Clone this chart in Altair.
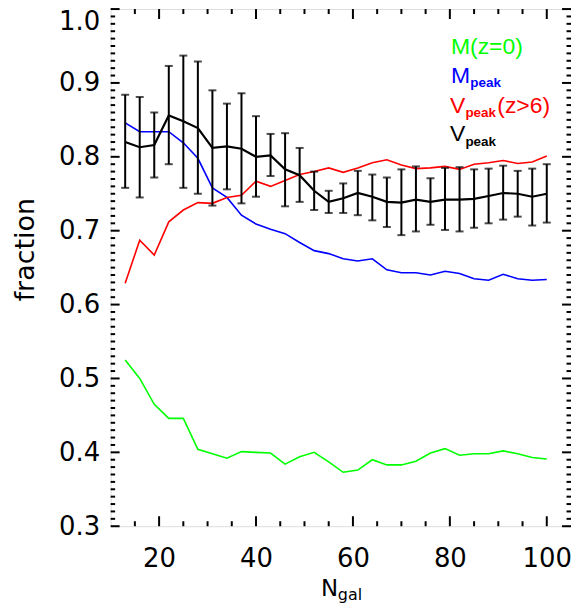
import altair as alt
import pandas as pd

# ---------------- data ----------------
n_gal = [13, 16, 19, 22, 25, 28, 31, 34, 37, 40, 43, 46, 49, 52, 55,
         58, 61, 64, 67, 70, 73, 76, 79, 82, 85, 88, 91, 94, 97, 100]

m_z0 = [0.525, 0.500, 0.465, 0.446, 0.446, 0.404, 0.398, 0.392, 0.401, 0.400,
        0.399, 0.384, 0.394, 0.400, 0.387, 0.373, 0.376, 0.390, 0.383, 0.383,
        0.388, 0.399, 0.405, 0.396, 0.398, 0.398, 0.402, 0.398, 0.393, 0.391]

m_peak = [0.846, 0.834, 0.834, 0.834, 0.819, 0.798, 0.758, 0.745, 0.721, 0.709,
          0.702, 0.696, 0.684, 0.673, 0.669, 0.662, 0.659, 0.662, 0.647, 0.643,
          0.643, 0.640, 0.645, 0.642, 0.635, 0.633, 0.641, 0.635, 0.633, 0.634]

v_peak_z6 = [0.629, 0.687, 0.667, 0.712, 0.728, 0.738, 0.737, 0.745, 0.748, 0.767,
             0.760, 0.768, 0.776, 0.780, 0.785, 0.779, 0.785, 0.792, 0.796, 0.789,
             0.784, 0.785, 0.787, 0.783, 0.790, 0.792, 0.795, 0.791, 0.793, 0.801]

v_peak = [0.820, 0.813, 0.816, 0.856, 0.848, 0.839, 0.812, 0.814, 0.811, 0.800,
          0.802, 0.783, 0.775, 0.754, 0.739, 0.744, 0.751, 0.746, 0.739, 0.738,
          0.742, 0.739, 0.742, 0.742, 0.743, 0.747, 0.751, 0.750, 0.746, 0.750]

v_peak_hi = [0.884, 0.881, 0.860, 0.923, 0.937, 0.929, 0.890, 0.872, 0.886, 0.855,
             0.831, 0.832, 0.812, 0.780, 0.754, 0.764, 0.781, 0.776, 0.772, 0.783,
             0.787, 0.771, 0.785, 0.786, 0.783, 0.784, 0.788, 0.781, 0.784, 0.790]

v_peak_lo = [0.758, 0.745, 0.772, 0.790, 0.758, 0.750, 0.734, 0.756, 0.737, 0.746,
             0.774, 0.733, 0.739, 0.728, 0.724, 0.724, 0.721, 0.714, 0.705, 0.694,
             0.699, 0.708, 0.701, 0.699, 0.704, 0.710, 0.715, 0.719, 0.707, 0.711]

x_major = [20, 40, 60, 80, 100]
x_minor = [15, 25, 30, 35, 45, 50, 55, 65, 70, 75, 85, 90, 95]
y_major = [0.3, 0.4, 0.5, 0.6, 0.7, 0.8, 0.9, 1.0]
y_minor = [round(0.3 + i * 0.01, 2) for i in range(71) if i % 10]

x_domain = [10, 105]
y_domain = [0.3, 1.0]

# ---------------- layout ----------------
W, H = 462, 519
AX_FONT = "DejaVu Sans"
LEG_FONT = "Liberation Sans"

df = pd.DataFrame({
    "x": n_gal, "m_z0": m_z0, "m_peak": m_peak, "v_peak_z6": v_peak_z6,
    "v_peak": v_peak, "hi": v_peak_hi, "lo": v_peak_lo,
})

xs = alt.Scale(domain=x_domain, nice=False, zero=False)
ys = alt.Scale(domain=y_domain, nice=False, zero=False)

x_axis = alt.Axis(values=x_major, tickSize=0, domain=False, grid=False,
                  labelFont=AX_FONT, labelFontSize=26, labelPadding=19,
                  labelColor="black", title=None, labelFlush=False)
y_axis = alt.Axis(values=y_major, format=".1f", tickSize=0, domain=False,
                  grid=False, labelFont=AX_FONT, labelFontSize=26,
                  labelPadding=11, labelColor="black", labelFlush=False,
                  labelBaseline={"condition": {"test": "datum.value >= 0.99",
                                               "value": "top"},
                                 "value": "middle"},
                  title="fraction", titleFont=AX_FONT, titleFontSize=27,
                  titleFontWeight="normal", titleColor="black",
                  titleX=-85, titleY=241, titleAlign="center",
                  titleBaseline="middle", titleAngle=-90)


def X(field="x"):
    return alt.X(f"{field}:Q", scale=xs, axis=x_axis)


def Y(field):
    return alt.Y(f"{field}:Q", scale=ys, axis=y_axis)


def line(col, color, width):
    return alt.Chart(df).mark_line(color=color, strokeWidth=width).encode(
        x=X(), y=Y(col))


green = line("m_z0", "#00ff00", 1.6)
blue = line("m_peak", "#0000ff", 1.6)
red = line("v_peak_z6", "#ff0000", 1.6)
black = line("v_peak", "black", 2.2)

bars = alt.Chart(df).mark_rule(color="black", strokeWidth=2).encode(
    x=X(), y=Y("lo"), y2="hi:Q")
cap_hi = alt.Chart(df).mark_tick(color="black", orient="horizontal", size=8,
                                  thickness=2).encode(x=X(), y=Y("hi"))
cap_lo = alt.Chart(df).mark_tick(color="black", orient="horizontal", size=8,
                                  thickness=2).encode(x=X(), y=Y("lo"))

# inward box ticks
xmaj = pd.DataFrame({"v": x_major})
xmin = pd.DataFrame({"v": x_minor})
ymaj = pd.DataFrame({"v": y_major})
ymin = pd.DataFrame({"v": y_minor})


def xticks(d, length):
    b = alt.Chart(d).mark_rule(color="black", strokeWidth=2).encode(
        x=X("v"), y=alt.value(H), y2=alt.value(H - length))
    t = alt.Chart(d).mark_rule(color="black", strokeWidth=2).encode(
        x=X("v"), y=alt.value(0), y2=alt.value(length))
    return b + t


def yticks(d, length):
    l = alt.Chart(d).mark_rule(color="black", strokeWidth=2).encode(
        y=Y("v"), x=alt.value(0), x2=alt.value(length))
    r = alt.Chart(d).mark_rule(color="black", strokeWidth=2).encode(
        y=Y("v"), x=alt.value(W), x2=alt.value(W - length))
    return l + r


ticks = xticks(xmaj, 10) + xticks(xmin, 5) + yticks(ymaj, 9) + yticks(ymin, 4.5)

one = pd.DataFrame({"k": [0]})


def label(txt, x, y, color="black", size=23, font=LEG_FONT, weight="normal"):
    return alt.Chart(one).mark_text(
        text=txt, color=color, fontSize=size, font=font, fontWeight=weight,
        align="left", baseline="alphabetic").encode(
        x=alt.value(x), y=alt.value(y))


texts = (
    label("N", 211, 589.5, size=23, font=AX_FONT)
    + label("gal", 228, 593, size=16, font=AX_FONT)
    + label("M(z=0)", 341.5, 45.5, color="#00ff00")
    + label("M", 341.5, 74.7, color="#0000ff")
    + label("peak", 361, 78.7, color="#0000ff", size=13.5, weight="bold")
    + label("V", 340.5, 104.7, color="#ff0000")
    + label("peak", 356, 108.5, color="#ff0000", size=13.5, weight="bold")
    + label("(z>6)", 388, 104.7, color="#ff0000")
    + label("V", 340.5, 132.7)
    + label("peak", 356, 137, size=13.5, weight="bold")
)

chart = alt.layer(
    ticks, green, blue, red, bars, cap_hi, cap_lo, black, texts
).properties(
    width=W, height=H,
    autosize=alt.AutoSizeParams(type="none"),
    padding={"left": 103, "top": 0, "right": 0, "bottom": 78},
).configure_view(stroke="black", strokeWidth=2).configure(background="white")

chart.save("out.html", embed_options={"renderer": "svg", "actions": False})
